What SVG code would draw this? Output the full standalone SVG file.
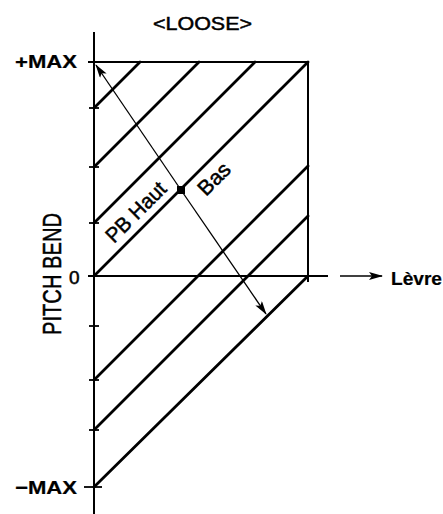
<svg xmlns="http://www.w3.org/2000/svg" width="443" height="514" viewBox="0 0 443 514">
<style>
.t{font-family:"Liberation Sans",Arial,sans-serif;fill:#000;stroke:#000;stroke-width:0.5}
.b{font-weight:bold;stroke-width:0.2}
.hatch{stroke:#000;stroke-width:2.8;fill:none;stroke-linecap:round}
.frame{stroke:#000;stroke-width:2;fill:none}
.tick{stroke:#000;stroke-width:1.8}
.thin{stroke:#000;stroke-width:1.3;fill:none}
</style>
<defs>
<marker id="ah" markerWidth="14" markerHeight="8" refX="13" refY="4" orient="auto" markerUnits="userSpaceOnUse">
<path d="M0,0 L14,4 L0,8 L3,4 Z" fill="#000"/>
</marker>
</defs>
<rect width="443" height="514" fill="#fff"/>
<g id="axes">
<line class="frame" x1="94" y1="32" x2="94" y2="514"/>
<line class="frame" x1="88" y1="276" x2="328" y2="276"/>
<line class="frame" x1="88" y1="62" x2="308" y2="62"/>
<line class="frame" x1="308" y1="62" x2="308" y2="282"/>
<line class="tick" x1="89" y1="108" x2="99" y2="108"/>
<line class="tick" x1="89" y1="167" x2="99" y2="167"/>
<line class="tick" x1="89" y1="223" x2="99" y2="223"/>
<line class="tick" x1="89" y1="326" x2="99" y2="326"/>
<line class="tick" x1="89" y1="380" x2="99" y2="380"/>
<line class="tick" x1="89" y1="430" x2="99" y2="430"/>
<line class="tick" x1="84" y1="487" x2="102" y2="487"/>
</g>
<g id="hatching">
<line class="hatch" x1="94" y1="108" x2="140" y2="62"/>
<line class="hatch" x1="94" y1="167" x2="199" y2="62"/>
<line class="hatch" x1="94" y1="223" x2="255" y2="62"/>
<line class="hatch" x1="94" y1="276" x2="308" y2="62"/>
<line class="hatch" x1="94" y1="380" x2="308" y2="166"/>
<line class="hatch" x1="94" y1="430" x2="308" y2="216"/>
<line class="hatch" x1="94" y1="487" x2="308" y2="276"/>
</g>
<g id="connectors">
<line class="thin" x1="181" y1="190" x2="96" y2="65" marker-end="url(#ah)"/>
<line class="thin" x1="181" y1="190" x2="266" y2="314" marker-end="url(#ah)"/>
<line class="thin" x1="340" y1="276" x2="382" y2="276" stroke-width="1.8" marker-end="url(#ah)"/>
</g>
<g id="point">
<rect x="177" y="186" width="8" height="8" fill="#000"/>
</g>
<g id="labels">
<text class="t" x="153" y="30" font-size="19" textLength="99" lengthAdjust="spacingAndGlyphs">&lt;LOOSE&gt;</text>
<text class="t b" x="15" y="68" font-size="18" textLength="62" lengthAdjust="spacingAndGlyphs">+MAX</text>
<text class="t b" x="15" y="494" font-size="19" textLength="62" lengthAdjust="spacingAndGlyphs">−MAX</text>
<text class="t" x="69" y="284" font-size="19">0</text>
<text class="t b" x="391" y="285" font-size="18" textLength="51" lengthAdjust="spacingAndGlyphs">Lèvre</text>
<text class="t" font-size="25" textLength="122" lengthAdjust="spacingAndGlyphs" transform="translate(61,335) rotate(-90)">PITCH BEND</text>
<text class="t" font-size="21" textLength="76" lengthAdjust="spacingAndGlyphs" transform="translate(114,244) rotate(-45)">PB Haut</text>
<text class="t" font-size="21" textLength="37" lengthAdjust="spacingAndGlyphs" transform="translate(206,197) rotate(-45)">Bas</text>
</g>
</svg>
